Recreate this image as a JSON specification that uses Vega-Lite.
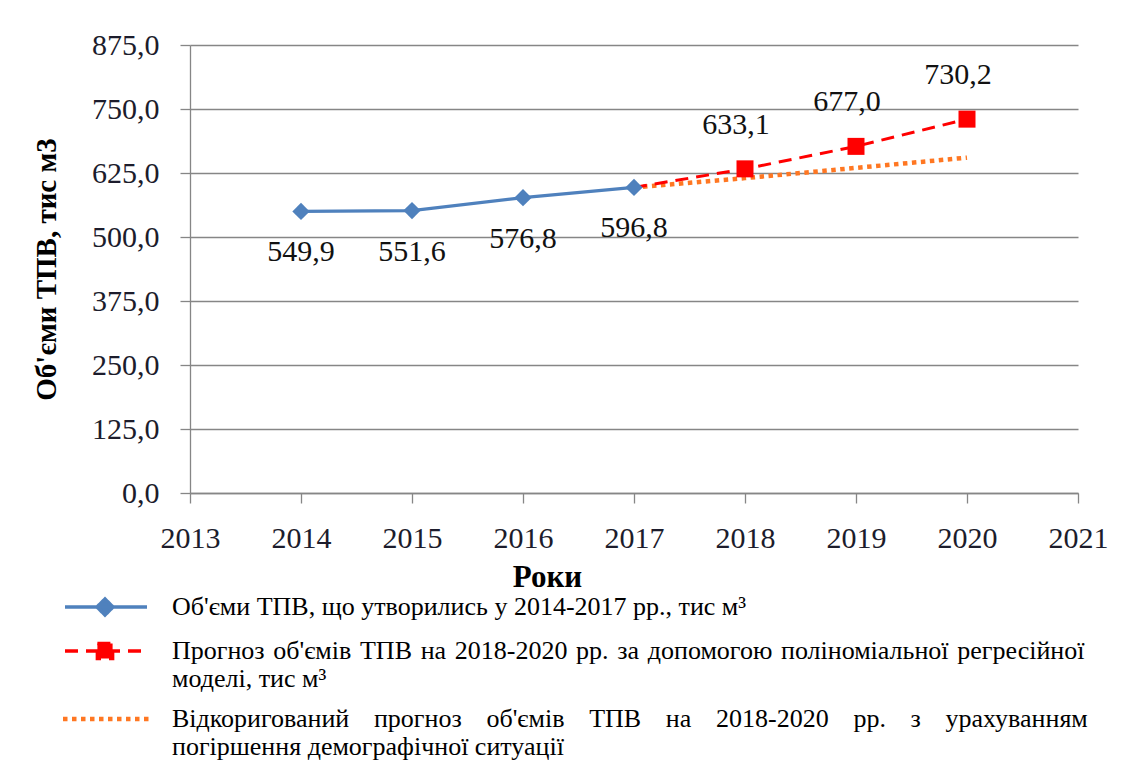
{
  "$schema": "https://vega.github.io/schema/vega-lite/v6.json",
  "width": 888,
  "height": 448,
  "autosize": {"type": "none"},
  "padding": {"left": 190, "top": 45, "right": 64, "bottom": 274},
  "background": "white",
  "config": {
    "locale": {"number": {"decimal": ",", "thousands": " ", "grouping": [3], "currency": ["", ""]}},
    "view": {"stroke": null},
    "font": "Liberation Serif",
    "axis": {
      "labelFont": "Liberation Serif",
      "titleFont": "Liberation Serif",
      "domainColor": "#868686",
      "tickColor": "#868686",
      "gridColor": "#868686",
      "domainWidth": 1.3,
      "tickWidth": 1.3,
      "gridWidth": 1.3,
      "labelColor": "#1c1c2c",
      "titleColor": "#000000"
    }
  },
  "data": {
    "values": [
      {"s": "A", "year": 2014, "v": 549.9},
      {"s": "A", "year": 2015, "v": 551.6},
      {"s": "A", "year": 2016, "v": 576.8},
      {"s": "A", "year": 2017, "v": 596.8},
      {"s": "B", "year": 2017, "v": 596.8},
      {"s": "B", "year": 2018, "v": 633.1},
      {"s": "B", "year": 2019, "v": 677.0},
      {"s": "B", "year": 2020, "v": 730.2},
      {"s": "C", "year": 2017, "v": 596.8},
      {"s": "C", "year": 2018, "v": 615.0},
      {"s": "C", "year": 2019, "v": 635.0},
      {"s": "C", "year": 2020, "v": 655.0}
    ]
  },
  "layer": [
    {
      "transform": [{"filter": "datum.s === 'C'"}],
      "mark": {"type": "line", "strokeCap": "butt", "strokeWidth": 4.5, "strokeDash": [4.5, 4.5]},
      "encoding": {
        "x": {
          "field": "year", "type": "quantitative",
          "scale": {"domain": [2013, 2021], "nice": false, "zero": false},
          "axis": {
            "values": [2013, 2014, 2015, 2016, 2017, 2018, 2019, 2020, 2021],
            "format": "d",
            "title": "Роки",
            "titleFontSize": 31,
            "titleFontWeight": "bold",
            "titleX": 357,
            "titlePadding": 9,
            "grid": false,
            "tickSize": 10,
            "labelFontSize": 30,
            "labelPadding": 20,
            "labelFlush": false,
            "labelOverlap": false
          }
        },
        "y": {
          "field": "v", "type": "quantitative",
          "scale": {"domain": [0, 875], "nice": false},
          "axis": {
            "values": [0, 125, 250, 375, 500, 625, 750, 875],
            "format": ".1f",
            "title": "Об'єми ТПВ, тис м3",
            "titleFontSize": 29,
            "titleFontWeight": "bold",
            "titlePadding": 30,
            "grid": true,
            "tickSize": 10,
            "labelFontSize": 30,
            "labelPadding": 21,
            "labelOverlap": false
          }
        },
        "color": {
          "field": "s", "type": "nominal",
          "scale": {"domain": ["A", "B", "C"], "range": ["#4F81BD", "#FF0000", "#FF7722"]},
          "legend": {
            "title": null,
            "orient": "none",
            "legendX": -130,
            "legendY": 549,
            "direction": "vertical",
            "columns": 1,
            "padding": 0,
            "rowPadding": 14,
            "symbolSize": 256,
            "labelFont": "Liberation Serif",
            "labelFontSize": 26,
            "labelColor": "#000000",
            "labelLimit": 2000,
            "labelOffset": 86,
            "labelExpr": "datum.value === 'A' ? \"Об'єми ТПВ, що утворились у 2014-2017 рр., тис м³\" : datum.value === 'B' ? [\"Прогноз \u200aоб'ємів \u200aТПВ \u200aна \u200a2018-2020 \u200aрр. \u200aза \u200aдопомогою \u200aполіноміальної \u200aрегресійної\", \"моделі, тис м³\"] : [\"Відкоригований \u2002\u2009прогноз \u2002\u2009об'ємів \u2002\u2009ТПВ \u2002\u2009на \u2002\u20092018-2020 \u2002\u2009рр. \u2002\u2009з \u2002\u2009урахуванням\", \"погіршення демографічної ситуації\"]",
            "encode": {
              "symbols": {
                "update": {
                  "size": {"value": 256},
                  "shape": {"signal": "datum.value === 'A' ? 'M-1,0H9.25M4,-1L5,0L4,1L3,0Z' : datum.value === 'B' ? 'M-1,0H9.25M3.05,-0.95H4.95V0.95H3.05Z' : 'M-1.25,0H9.5'"},
                  "stroke": {"signal": "datum.value === 'A' ? '#4F81BD' : datum.value === 'B' ? '#FF0000' : '#FF7722'"},
                  "fill": {"signal": "datum.value === 'A' ? '#4F81BD' : datum.value === 'B' ? '#FF0000' : 'transparent'"},
                  "strokeDash": {"signal": "datum.value === 'A' ? [1, 0] : datum.value === 'B' ? [13, 8] : [4.5, 4.5]"},
                  "strokeWidth": {"signal": "datum.value === 'C' ? 4.5 : 3.5"},
                  "opacity": {"value": 1}
                }
              },
              "labels": {"update": {"lineHeight": {"value": 28}}}
            }
          }
        }
      }
    },
    {
      "transform": [{"filter": "datum.s === 'B'"}],
      "mark": {"type": "line", "strokeCap": "butt", "strokeWidth": 3, "strokeDash": [13, 8]},
      "encoding": {
        "x": {"field": "year", "type": "quantitative"},
        "y": {"field": "v", "type": "quantitative"},
        "color": {"field": "s", "type": "nominal"}
      }
    },
    {
      "transform": [{"filter": "datum.s === 'A'"}],
      "mark": {"type": "line", "strokeWidth": 3.2},
      "encoding": {
        "x": {"field": "year", "type": "quantitative"},
        "y": {"field": "v", "type": "quantitative"},
        "color": {"field": "s", "type": "nominal"}
      }
    },
    {
      "transform": [{"filter": "datum.s === 'A'"}],
      "mark": {"type": "point", "shape": "diamond", "filled": true, "size": 300, "color": "#4F81BD", "opacity": 1},
      "encoding": {
        "x": {"field": "year", "type": "quantitative"},
        "y": {"field": "v", "type": "quantitative"}
      }
    },
    {
      "transform": [{"filter": "datum.s === 'B' && datum.year >= 2018"}],
      "mark": {"type": "square", "size": 289, "color": "#FF0000", "opacity": 1},
      "encoding": {
        "x": {"field": "year", "type": "quantitative"},
        "y": {"field": "v", "type": "quantitative"}
      }
    },
    {
      "transform": [{"filter": "datum.s === 'A'"}],
      "mark": {"type": "text", "fontSize": 30, "dy": 41, "color": "#111111", "font": "Liberation Serif"},
      "encoding": {
        "x": {"field": "year", "type": "quantitative"},
        "y": {"field": "v", "type": "quantitative"},
        "text": {"field": "v", "type": "quantitative", "format": ".1f"}
      }
    },
    {
      "transform": [{"filter": "datum.s === 'B' && datum.year >= 2018"}],
      "mark": {"type": "text", "fontSize": 30, "dy": -44, "dx": -9, "color": "#111111", "font": "Liberation Serif"},
      "encoding": {
        "x": {"field": "year", "type": "quantitative"},
        "y": {"field": "v", "type": "quantitative"},
        "text": {"field": "v", "type": "quantitative", "format": ".1f"}
      }
    }
  ]
}
